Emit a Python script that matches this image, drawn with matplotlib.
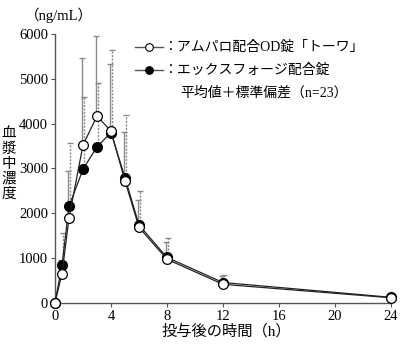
import matplotlib
matplotlib.use("Agg")
import matplotlib.pyplot as plt
import numpy as np

plt.rcParams['font.family'] = ['Liberation Serif', 'Noto Sans CJK JP']

time_h = [0, 0.5, 1, 2, 3, 4, 5, 6, 8, 12, 24]
towa_mean = [0, 650, 1890, 3520, 4170, 3830, 2720, 1680, 970, 410, 110]
towa_sd = [0, 300, 1040, 1940, 1780, 1510, 1100, 620, 380, 180, 40]
exforge_mean = [0, 835, 2150, 2980, 3480, 3800, 2790, 1735, 1010, 450, 120]
exforge_sd = [0, 715, 1420, 1620, 1420, 1840, 1400, 765, 430, 170, 40]

x_ticks = [0, 4, 8, 12, 16, 20, 24]
y_ticks = [0, 1000, 2000, 3000, 4000, 5000, 6000]

legend_labels = ['：アムパロ配合OD錠「トーワ」', '：エックスフォージ配合錠', '平均値＋標準偏差（n=23）']
y_label = '血漿中濃度'
x_label = '投与後の時間（h）'
unit_label = '（ng/mL）'

fig = plt.figure(figsize=(4.0, 3.47), dpi=100)
ax = fig.add_axes([0.1375, 0.1277, 0.84, 0.7743])

t = np.array(time_h)
tm, ts = np.array(towa_mean), np.array(towa_sd)
em, es = np.array(exforge_mean), np.array(exforge_sd)

ecol = '#8a8a8a'
# error bars (upper only)
ax.vlines(t + 0.08, em, em + es, colors=ecol, linestyles=(0, (1.5, 1)), linewidth=1.0, zorder=1, clip_on=False)
ax.plot(t + 0.08, em + es, linestyle='none', marker='_', markersize=5, color=ecol, markeredgewidth=1.0, zorder=1, clip_on=False)
ax.vlines(t - 0.04, tm, tm + ts, colors=ecol, linestyles='solid', linewidth=1.0, zorder=1, clip_on=False)
ax.plot(t - 0.04, tm + ts, linestyle='none', marker='_', markersize=5, color=ecol, markeredgewidth=1.0, zorder=1, clip_on=False)

ax.plot(t, em, color='#222222', linewidth=0.9, marker='o', markersize=7,
        markerfacecolor='black', markeredgecolor='black', zorder=3, clip_on=False)
ax.plot(t, tm, color='#222222', linewidth=0.9, marker='o', markersize=7,
        markerfacecolor='white', markeredgecolor='black', markeredgewidth=0.9, zorder=4, clip_on=False)

ax.set_xlim(0, 24)
ax.set_ylim(0, 6000)
ax.set_xticks(x_ticks)
ax.set_yticks(y_ticks)
ax.set_xticklabels([str(v) for v in x_ticks])
ax.set_yticklabels([str(v) for v in y_ticks])
for s in ['top', 'right']:
    ax.spines[s].set_visible(False)
for s in ['left', 'bottom']:
    ax.spines[s].set_color('#555555')
    ax.spines[s].set_linewidth(1.0)
ax.tick_params(direction='out', length=3, width=0.8, color='#555555', labelsize=10.5, pad=2)

# legend (manual)
fx = lambda px: px / 400.0
fy = lambda py: 1 - py / 347.0
ly = [47, 70]
for i, (fc) in enumerate(['white', 'black']):
    fig.add_artist(matplotlib.lines.Line2D([fx(135), fx(163)], [fy(ly[i]), fy(ly[i])],
                                           color='#555555', linewidth=1.0))
    fig.add_artist(matplotlib.lines.Line2D([fx(149)], [fy(ly[i])], marker='o', markersize=5.5,
                                           markerfacecolor=fc, markeredgecolor='black', markeredgewidth=0.8))
    fig.text(fx(163), fy(ly[i]), legend_labels[i], fontsize=10, va='center', ha='left')
fig.text(fx(180), fy(93), legend_labels[2], fontsize=10, va='center', ha='left')

fig.text(fx(59), fy(15), unit_label, fontsize=10.5, va='center', ha='center')
for i, ch in enumerate(y_label):
    fig.text(fx(9), fy(134 + i * 15), ch, fontsize=10.5, va='center', ha='center')
fig.text(fx(226), fy(331), x_label, fontsize=11, va='center', ha='center')

fig.savefig('out.png', dpi=100)
